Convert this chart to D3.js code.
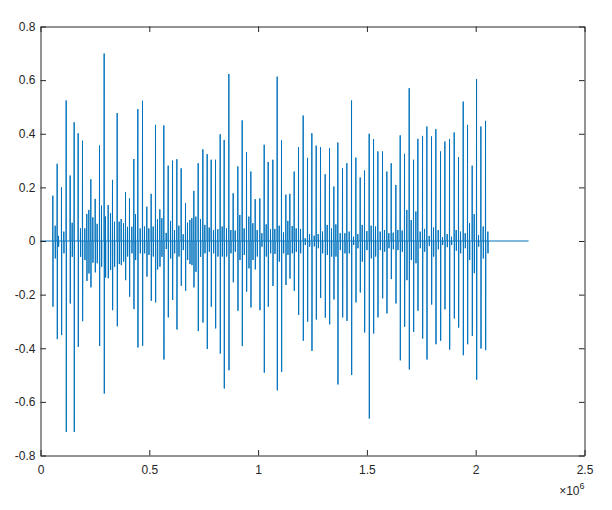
<!DOCTYPE html>
<html>
<head>
<meta charset="utf-8">
<script src="https://cdn.jsdelivr.net/npm/d3@7"></script>
<style>
  body { margin: 0; background: #fff; }
  text { font-family: "Liberation Sans", Arial, Helvetica, sans-serif; font-size: 12px; fill: #262626; }
</style>
</head>
<body>
<div id="container"></div>
<script>
// sample index of each burst, its max and its min
const spikeX = [
  56700, 67400, 76600, 82700, 96500, 107200, 118000, 136300, 145500, 154700,
  173100, 183800, 193000, 203700, 212900, 222100, 231300, 240500, 251300, 260400,
  271200, 280400, 292600, 298700, 311000, 321700, 330900, 340100, 352400, 361600,
  370800, 381500, 390700, 399900, 409000, 419700, 428900, 436600, 447300, 458100,
  468800, 478000, 488700, 497900, 508600, 517800, 528500, 537700, 548400, 557600,
  566800, 577600, 586800, 597500, 606700, 615900, 626600, 635800, 646500, 655700,
  666400, 675600, 686300, 695500, 704700, 713900, 724600, 735400, 746100, 755300,
  766000, 775200, 784400, 795100, 804300, 815000, 825700, 834900, 844100, 854900,
  865600, 874800, 885500, 894700, 906900, 916100, 926900, 936000, 946800, 957500,
  966700, 975900, 986600, 995800, 1008000, 1017200, 1028000, 1037200, 1046300, 1057100,
  1067800, 1077000, 1087700, 1096900, 1107600, 1116800, 1127500, 1136700, 1145900, 1156700,
  1165800, 1175000, 1185800, 1195000, 1207200, 1216400, 1227100, 1236300, 1247000, 1257800,
  1267000, 1276200, 1286900, 1296100, 1308300, 1317500, 1328200, 1337400, 1348100, 1357300,
  1366500, 1377300, 1388000, 1398700, 1407900, 1418600, 1429400, 1438500, 1449300, 1458400,
  1469200, 1478400, 1489100, 1499800, 1510500, 1519700, 1530500, 1539700, 1550400, 1561100,
  1571800, 1581000, 1591700, 1600900, 1611700, 1620900, 1633100, 1642300, 1653000, 1662200,
  1672900, 1683600, 1694400, 1703600, 1714300, 1725000, 1734200, 1744900, 1755700, 1764900,
  1775600, 1786300, 1797000, 1806200, 1816900, 1827700, 1838400, 1847600, 1858300, 1869000,
  1879800, 1888900, 1901200, 1910400, 1921100, 1930300, 1942600, 1951800, 1962500, 1971700,
  1983900, 1993100, 2003900, 2013000, 2023800, 2034500, 2045200, 2055900
];
const spikeHi = [
  0.169, 0.057, 0.288, 0.019, 0.2, 0.035, 0.524, 0.244, 0.068, 0.443,
  0.402, 0.047, 0.374, 0.047, 0.101, 0.116, 0.23, 0.088, 0.157, 0.064,
  0.356, 0.132, 0.699, 0.091, 0.134, 0.103, 0.228, 0.072, 0.477, 0.072,
  0.082, 0.066, 0.182, 0.053, 0.159, 0.053, 0.306, 0.1, 0.492, 0.047,
  0.523, 0.054, 0.128, 0.047, 0.176, 0.054, 0.433, 0.081, 0.118, 0.085,
  0.431, 0.03, 0.281, 0.075, 0.3, 0.041, 0.305, 0.057, 0.271, 0.025,
  0.141, 0.068, 0.078, 0.085, 0.187, 0.091, 0.29, 0.082, 0.342, 0.06,
  0.324, 0.05, 0.303, 0.041, 0.303, 0.044, 0.398, 0.054, 0.377, 0.047,
  0.623, 0.041, 0.178, 0.039, 0.278, 0.097, 0.45, 0.047, 0.331, 0.091,
  0.259, 0.066, 0.156, 0.041, 0.159, 0.029, 0.359, 0.062, 0.295, 0.044,
  0.303, 0.045, 0.613, 0.057, 0.375, 0.032, 0.173, 0.075, 0.176, 0.056,
  0.259, 0.047, 0.35, 0.045, 0.468, 0.01, 0.31, 0.026, 0.402, 0.02,
  0.356, 0.026, 0.35, 0.035, 0.249, 0.06, 0.346, 0.047, 0.203, 0.062,
  0.367, 0.029, 0.271, 0.029, 0.29, 0.035, 0.524, 0.016, 0.311, 0.026,
  0.237, 0.06, 0.263, 0.037, 0.4, 0.057, 0.38, 0.054, 0.334, 0.035,
  0.334, 0.041, 0.259, 0.029, 0.29, 0.031, 0.209, 0.041, 0.394, 0.039,
  0.325, 0.116, 0.57, 0.078, 0.303, 0.11, 0.381, 0.035, 0.392, 0.045,
  0.427, 0.019, 0.39, 0.05, 0.417, 0.041, 0.334, 0.014, 0.371, 0.026,
  0.38, 0.016, 0.405, 0.041, 0.313, 0.035, 0.52, 0.029, 0.433, 0.066,
  0.281, 0.1, 0.604, 0.022, 0.427, 0.054, 0.448, 0.035
];
const spikeLo = [
  -0.245, -0.065, -0.366, -0.021, -0.351, -0.046, -0.712, -0.233, -0.059, -0.712,
  -0.395, -0.059, -0.299, -0.071, -0.149, -0.121, -0.173, -0.081, -0.117, -0.083,
  -0.391, -0.096, -0.569, -0.136, -0.139, -0.108, -0.258, -0.096, -0.318, -0.086,
  -0.09, -0.077, -0.146, -0.058, -0.208, -0.046, -0.254, -0.071, -0.397, -0.046,
  -0.391, -0.046, -0.133, -0.052, -0.223, -0.058, -0.229, -0.106, -0.096, -0.059,
  -0.442, -0.03, -0.285, -0.065, -0.22, -0.046, -0.33, -0.058, -0.167, -0.034,
  -0.186, -0.071, -0.086, -0.09, -0.173, -0.115, -0.336, -0.059, -0.304, -0.046,
  -0.403, -0.04, -0.245, -0.046, -0.326, -0.058, -0.42, -0.058, -0.55, -0.058,
  -0.482, -0.046, -0.154, -0.04, -0.26, -0.071, -0.392, -0.052, -0.189, -0.102,
  -0.248, -0.071, -0.106, -0.058, -0.258, -0.021, -0.491, -0.058, -0.245, -0.046,
  -0.168, -0.048, -0.557, -0.077, -0.488, -0.046, -0.164, -0.052, -0.14, -0.046,
  -0.186, -0.04, -0.276, -0.046, -0.372, -0.015, -0.301, -0.021, -0.41, -0.02,
  -0.293, -0.027, -0.212, -0.046, -0.286, -0.052, -0.311, -0.058, -0.218, -0.058,
  -0.535, -0.034, -0.285, -0.046, -0.298, -0.046, -0.5, -0.015, -0.229, -0.027,
  -0.192, -0.077, -0.341, -0.034, -0.662, -0.065, -0.345, -0.058, -0.285, -0.034,
  -0.214, -0.04, -0.27, -0.027, -0.142, -0.031, -0.233, -0.034, -0.445, -0.04,
  -0.32, -0.146, -0.479, -0.071, -0.339, -0.083, -0.26, -0.027, -0.364, -0.04,
  -0.442, -0.019, -0.237, -0.058, -0.385, -0.031, -0.372, -0.015, -0.255, -0.023,
  -0.405, -0.015, -0.289, -0.036, -0.323, -0.046, -0.426, -0.027, -0.385, -0.071,
  -0.354, -0.12, -0.517, -0.021, -0.401, -0.065, -0.407, -0.046
];
const signalEnd = 2243000;

const xTicks = [0, 500000, 1000000, 1500000, 2000000, 2500000];
const xTickLabels = ["0", "0.5", "1", "1.5", "2", "2.5"];
const yTicks = [-0.8, -0.6, -0.4, -0.2, 0, 0.2, 0.4, 0.6, 0.8];
const yTickLabels = ["-0.8", "-0.6", "-0.4", "-0.2", "0", "0.2", "0.4", "0.6", "0.8"];

const w = 612, h = 510;
const margin = {top: 26.5, left: 40.5, bottom: 54.5, right: 27.5};
const graphWidth = w - margin.left - margin.right;
const graphHeight = h - margin.top - margin.bottom;

const svg = d3.select("#container").append("svg").attr("width", w).attr("height", h);
const graph = svg.append("g").attr("transform", `translate(${margin.left}, ${margin.top})`);

const xScale = d3.scaleLinear().domain([0, 2500000]).range([0, graphWidth]);
const yScale = d3.scaleLinear().domain([-0.8, 0.8]).range([graphHeight, 0]);

// turn bursts into a waveform trace: flat at zero between bursts
const points = [[0, 0]];
spikeX.forEach((x, i) => {
  points.push([x - 600, 0], [x, spikeHi[i]], [x + 600, spikeLo[i]], [x + 1200, 0]);
});
points.push([signalEnd, 0]);

const line = d3.line().x(d => xScale(d[0])).y(d => yScale(d[1]));

graph.append("path")
  .datum(points)
  .attr("fill", "none")
  .attr("stroke", "#0072BD")
  .attr("stroke-width", 1)
  .attr("d", line);

// axes, MATLAB style: ticks inward on all four sides
const tickLen = 5.5;
const xAxis = d3.axisBottom(xScale).tickValues(xTicks).tickSizeInner(-tickLen).tickSizeOuter(0)
  .tickPadding(10).tickFormat((d, i) => xTickLabels[i]);
const xAxisTop = d3.axisTop(xScale).tickValues(xTicks).tickSizeInner(-tickLen).tickSizeOuter(0).tickFormat("");
const yAxis = d3.axisLeft(yScale).tickValues(yTicks).tickSizeInner(-tickLen).tickSizeOuter(0)
  .tickPadding(5).tickFormat((d, i) => yTickLabels[i]);
const yAxisRight = d3.axisRight(yScale).tickValues(yTicks).tickSizeInner(-tickLen).tickSizeOuter(0).tickFormat("");

const gx = graph.append("g").attr("transform", `translate(0, ${graphHeight})`).call(xAxis);
const gxt = graph.append("g").call(xAxisTop);
const gy = graph.append("g").call(yAxis);
const gyr = graph.append("g").attr("transform", `translate(${graphWidth}, 0)`).call(yAxisRight);

[gx, gxt, gy, gyr].forEach(g => {
  g.select(".domain").attr("stroke", "#262626").attr("stroke-width", 1);
  g.selectAll(".tick line").attr("stroke", "#262626").attr("stroke-width", 1);
  g.selectAll("text").attr("font-family", null).attr("font-size", null).attr("fill", "#262626");
});

// exponent label
const expLabel = graph.append("text")
  .attr("x", graphWidth)
  .attr("y", graphHeight + 39)
  .attr("text-anchor", "end");
expLabel.append("tspan").text("\u00d710");
expLabel.append("tspan").attr("dy", -6).attr("font-size", "9px").text("6");
</script>
</body>
</html>
